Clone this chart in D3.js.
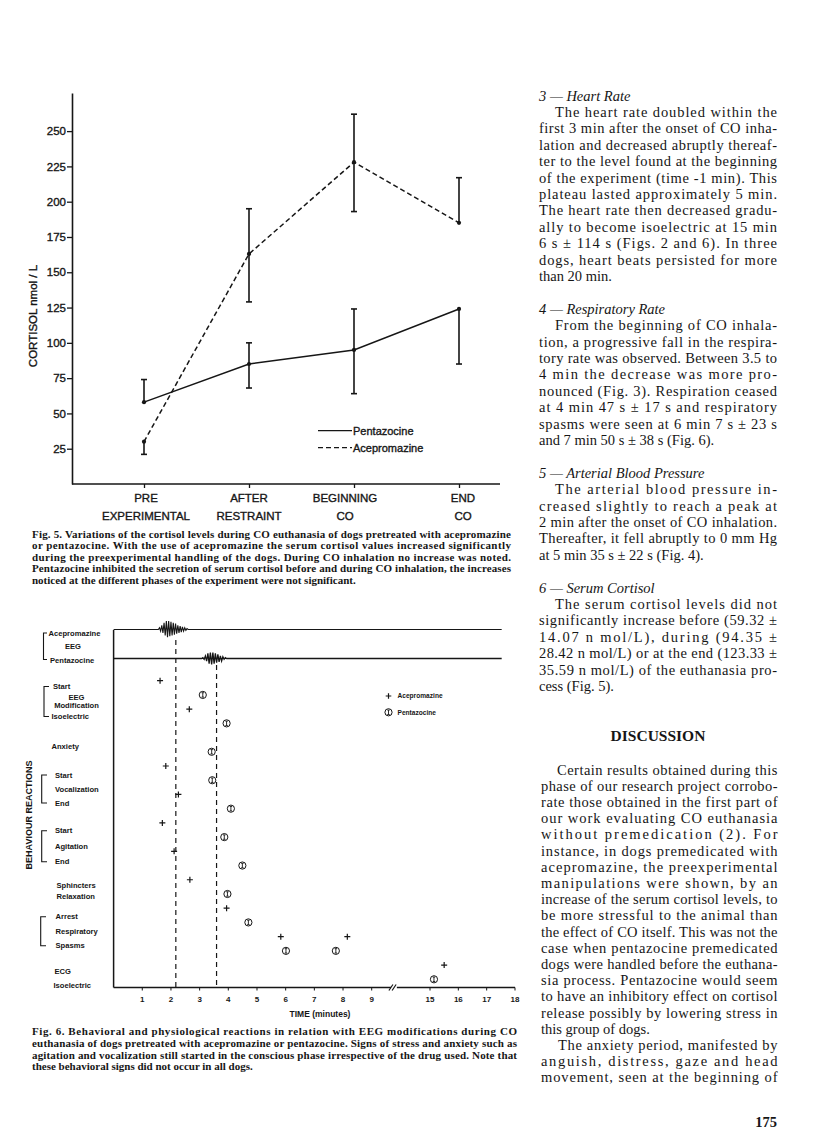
<!DOCTYPE html>
<html><head><meta charset="utf-8">
<script src="https://cdn.jsdelivr.net/npm/d3@7"></script>
<style>
html,body{margin:0;padding:0;background:#fff;}
svg{display:block;}
</style></head>
<body>
<svg id="page" width="816" height="1144"></svg>
<script>
// ===================== DATA =====================
// Fig. 5 — cortisol (nmol/L)
const phases = ["PRE|EXPERIMENTAL", "AFTER|RESTRAINT", "BEGINNING|CO", "END|CO"];
const cortisolTicks = [25, 50, 75, 100, 125, 150, 175, 200, 225, 250];
const pentazocineMean = [58, 85, 95, 124];
const pentazocineHigh = [74, 100, 124, 124];
const pentazocineLow  = [58, 68, 64, 85];
const acepromazineMean = [30, 163, 228, 185];
const acepromazineHigh = [30, 195, 262, 217];
const acepromazineLow  = [21, 129, 193, 185];
const seriesNames = ["Pentazocine", "Acepromazine"];

// Fig. 6 — time of reactions (minutes)
const reactions = ["EEG modification start", "EEG isoelectric", "Anxiety", "Vocalization start",
  "Vocalization end", "Agitation start", "Agitation end", "Sphincters relaxation",
  "Respiratory arrest", "Respiratory spasms", "ECG isoelectric"];
const drugs = ["Acepromazine", "Pentazocine"];
const acepromazineTimes = [[1.62], [2.64], [], [1.82], [2.26], [1.70], [2.11], [2.66], [3.94], [5.83, 8.15], [15.5]];
const pentazocineTimes  = [[3.11], [3.94], [3.42], [3.44], [4.09], [3.86], [4.49], [3.97], [4.70], [6.01, 7.75], [15.14]];
const eegSilenceTimes = [2.17, 3.59];          // dashed verticals (acepromazine, pentazocine)
const timeTicksLeft = [1, 2, 3, 4, 5, 6, 7, 8, 9];
const timeTicksRight = [15, 16, 17, 18];
// EEG traces: burst windows (min) and sampled amplitudes read from the tracings
const eegBurstWindow = [[1.56, 2.60], [3.07, 3.94]];
const eegBurstAce = [0, 2, -2, 5, -4, 8, -7, 10, -9, 10, -8, 9, -7, 8, -6, 7, -5, 5, -4, 4, -3, 3, -2, 2, -1, 1, 0];
const eegBurstPen = [0, 1, -1, 3, -3, 6, -6, 7, -7, 7, -6, 6, -5, 5, -4, 3, -3, 2, -1, 1, 0];
const eegTraceEnd = 17.53;

// ===================== DRAW =====================
const ink = "#161616";
const SANS = "'Liberation Sans', Arial, Helvetica, sans-serif";
const SERIF = "'Liberation Serif', 'Times New Roman', serif";
const svg = d3.select("#page");
svg.append("rect").attr("width", 816).attr("height", 1144).attr("fill", "#fff");
const thick = sel => sel.attr("stroke", ink).attr("stroke-width", 0.35).attr("paint-order", "stroke");

// ---------- Fig. 5 ----------
const f5 = svg.append("g");
const f5y = d3.scaleLinear().domain([0, 277]).range([484, 93]);
const f5x = d3.scalePoint().domain(phases).range([144, 459]);
const axX0 = 72;

f5.append("g").attr("transform", `translate(${axX0},0)`)
  .call(d3.axisLeft(f5y).tickValues(cortisolTicks).tickSize(5).tickSizeOuter(0).tickPadding(1))
  .attr("font-family", SANS).attr("font-size", 11.5)
  .call(g => g.select(".domain").attr("stroke", ink).attr("stroke-width", 1.6))
  .call(g => g.selectAll(".tick line").attr("stroke", ink).attr("stroke-width", 1.3))
  .call(g => g.selectAll(".tick text").attr("fill", ink).call(thick));

f5.append("g").attr("transform", `translate(0,${f5y(0)})`)
  .call(d3.axisBottom(f5x).tickSize(4).tickFormat(""))
  .call(g => g.select(".domain").remove())
  .call(g => g.selectAll(".tick line").attr("stroke", ink).attr("stroke-width", 1.3));
f5.append("line").attr("x1", axX0).attr("x2", 500).attr("y1", f5y(0)).attr("y2", f5y(0))
  .attr("stroke", ink).attr("stroke-width", 1.6);

const catLab = f5.append("g").attr("font-family", SANS).attr("font-size", 11.5).attr("fill", ink)
  .attr("text-anchor", "middle").call(thick);
const catNudge = [2, 0, -9, 4];   // typeset offsets of the two-line labels
phases.forEach((p, i) => {
  const [a, b] = p.split("|");
  catLab.append("text").attr("x", f5x(p) + catNudge[i]).attr("y", f5y(0) + 18).text(a);
  catLab.append("text").attr("x", f5x(p) + catNudge[i]).attr("y", f5y(0) + 36).text(b);
});

f5.append("text").attr("transform", `translate(37,${316}) rotate(-90)`)
  .attr("text-anchor", "middle").attr("font-family", SANS).attr("font-size", 11.5).attr("fill", ink)
  .call(thick).text("CORTISOL nmol / L");

const series5 = [
  {name: seriesNames[0], mean: pentazocineMean, hi: pentazocineHigh, lo: pentazocineLow, dash: null},
  {name: seriesNames[1], mean: acepromazineMean, hi: acepromazineHigh, lo: acepromazineLow, dash: "5,3"}
];
const line5 = d3.line().x((d, i) => f5x(phases[i])).y(d => f5y(d));
series5.forEach(s => {
  f5.append("path").attr("d", line5(s.mean)).attr("fill", "none").attr("stroke", ink)
    .attr("stroke-width", 1.5).attr("stroke-dasharray", s.dash);
  s.mean.forEach((m, i) => {
    const x = f5x(phases[i]);
    f5.append("line").attr("x1", x).attr("x2", x).attr("y1", f5y(s.lo[i])).attr("y2", f5y(s.hi[i]))
      .attr("stroke", ink).attr("stroke-width", 1.6);
    if (s.hi[i] > m) f5.append("line").attr("x1", x - 3).attr("x2", x + 3).attr("y1", f5y(s.hi[i])).attr("y2", f5y(s.hi[i])).attr("stroke", ink).attr("stroke-width", 1.6);
    if (s.lo[i] < m) f5.append("line").attr("x1", x - 3).attr("x2", x + 3).attr("y1", f5y(s.lo[i])).attr("y2", f5y(s.lo[i])).attr("stroke", ink).attr("stroke-width", 1.6);
    f5.append("circle").attr("cx", x).attr("cy", f5y(m)).attr("r", 2.1).attr("fill", ink);
  });
});
// legend
series5.forEach((s, i) => {
  const y = 430.7 + i * 17;
  f5.append("line").attr("x1", 318).attr("x2", 352).attr("y1", y).attr("y2", y)
    .attr("stroke", ink).attr("stroke-width", 1.3).attr("stroke-dasharray", s.dash);
  f5.append("text").attr("x", 353).attr("y", y + 4).attr("font-family", SANS).attr("font-size", 11)
    .attr("fill", ink).call(thick).text(s.name);
});

// ---------- justified text helper ----------
function para(g, lines, opts) {
  lines.forEach((ln, i) => {
    const t = g.append("text").attr("x", opts.x + (ln.indent || 0)).attr("y", opts.y0 + i * opts.lh)
      .attr("font-family", opts.font).attr("font-size", opts.size).attr("fill", ink)
      .attr("font-weight", ln.bold || opts.weight || "normal")
      .attr("font-style", ln.italic ? "italic" : "normal")
      .text(ln.t);
    if (ln.j) t.attr("textLength", opts.w - (ln.indent || 0)).attr("lengthAdjust", "spacing");
  });
}

// Fig. 5 caption
const cap5 = [
  {t: "Fig. 5.  Variations of the cortisol levels during CO euthanasia of dogs pretreated with acepromazine", j: 1},
  {t: "or pentazocine. With the use of acepromazine the serum cortisol values increased significantly", j: 1},
  {t: "during the preexperimental handling of the dogs. During CO inhalation no increase was noted.", j: 1},
  {t: "Pentazocine inhibited the secretion of serum cortisol before and during CO inhalation, the increases", j: 1},
  {t: "noticed at the different phases of the experiment were not significant.", j: 0}
];
para(svg.append("g"), cap5, {x: 32, w: 479, y0: 537.5, lh: 11.6, font: SERIF, size: 11, weight: "bold"});

// ---------- Fig. 6 ----------
const f6 = svg.append("g");
const tL = d3.scaleLinear().domain([0, 9]).range([113.6, 371.7]);
const tR = d3.scaleLinear().domain([15, 18]).range([430, 515]);
const tx = t => t <= 12 ? tL(t) : tR(t);
const breakL = 9.67, breakR = 13.83;
const axisY6 = 987.5, topY6 = 630;

const slotKeys = [];
reactions.forEach(r => drugs.forEach(d => slotKeys.push(r + "|" + d)));
const ySlot = d3.scalePoint().domain(slotKeys).range([680.7, 979.3]);

// axes
f6.append("line").attr("x1", tL(0)).attr("x2", tL(0)).attr("y1", topY6).attr("y2", axisY6)
  .attr("stroke", ink).attr("stroke-width", 1.5);
f6.append("line").attr("x1", tL(0)).attr("x2", tx(breakL)).attr("y1", axisY6).attr("y2", axisY6)
  .attr("stroke", ink).attr("stroke-width", 1.5);
f6.append("line").attr("x1", tx(breakR)).attr("x2", tR(18)).attr("y1", axisY6).attr("y2", axisY6)
  .attr("stroke", ink).attr("stroke-width", 1.5);
[0, 3.2].forEach(dx => f6.append("line").attr("x1", tx(breakL) - 2 + dx).attr("x2", tx(breakL) + 2 + dx)
  .attr("y1", axisY6 + 3).attr("y2", axisY6 - 3).attr("stroke", ink).attr("stroke-width", 1.2));
const ticksAll = timeTicksLeft.concat(timeTicksRight);
const tickG = f6.append("g").attr("font-family", SANS).attr("font-size", 8).attr("font-weight", "bold")
  .attr("fill", ink).attr("text-anchor", "middle");
ticksAll.forEach(t => {
  tickG.append("line").attr("x1", tx(t)).attr("x2", tx(t)).attr("y1", axisY6).attr("y2", axisY6 + 3)
    .attr("stroke", ink).attr("stroke-width", 1);
  tickG.append("text").attr("x", tx(t)).attr("y", axisY6 + 14).text(t);
});
f6.append("text").attr("x", 320).attr("y", 1017).attr("text-anchor", "middle").attr("font-family", SANS)
  .attr("font-size", 8.5).attr("font-weight", "bold").attr("fill", ink).text("TIME  (minutes)");

// EEG traces
const ampScale = d3.scaleLinear().domain([-10, 10]).range([8.5, -8.5]);
const traceBase = [629.5, 658.5];
[eegBurstAce, eegBurstPen].forEach((burst, k) => {
  const [b0, b1] = eegBurstWindow[k];
  const step = (b1 - b0) / (burst.length - 1);
  const pts = [[tL(0), traceBase[k]]];
  burst.forEach((a, i) => pts.push([tx(b0 + i * step), traceBase[k] + ampScale(a)]));
  pts.push([tx(eegTraceEnd), traceBase[k]]);
  f6.append("path").attr("d", d3.line()(pts)).attr("fill", "none").attr("stroke", ink)
    .attr("stroke-width", k === 0 ? 1.1 : 1.3);
});
// dashed verticals
eegSilenceTimes.forEach((t, k) => {
  f6.append("line").attr("x1", tx(t)).attr("x2", tx(t)).attr("y1", k === 0 ? 640 : 665).attr("y2", axisY6)
    .attr("stroke", ink).attr("stroke-width", 1.2).attr("stroke-dasharray", "5,4");
});

// markers
function plus(g, x, y, s) {
  g.append("path").attr("d", `M${x - s},${y}H${x + s}M${x},${y - s}V${y + s}`)
    .attr("stroke", ink).attr("stroke-width", 1.2).attr("fill", "none");
}
function circI(g, x, y) {
  g.append("circle").attr("cx", x).attr("cy", y).attr("r", 3.6).attr("fill", "#fff")
    .attr("stroke", ink).attr("stroke-width", 1);
  g.append("path").attr("d", `M${x - 1.2},${y - 2.2}H${x + 1.2}M${x},${y - 2.2}V${y + 2.2}M${x - 1.2},${y + 2.2}H${x + 1.2}`)
    .attr("stroke", ink).attr("stroke-width", 0.9).attr("fill", "none");
}
const mk = f6.append("g");
reactions.forEach((r, i) => {
  acepromazineTimes[i].forEach(t => plus(mk, tx(t), ySlot(r + "|" + drugs[0]), 3));
  pentazocineTimes[i].forEach(t => circI(mk, tx(t), ySlot(r + "|" + drugs[1])));
});
// legend
plus(mk, 388.5, 696, 2.8);
mk.append("text").attr("x", 397.5).attr("y", 698.3).attr("font-family", SANS).attr("font-size", 6.6)
  .attr("font-weight", "bold").attr("fill", ink).text(drugs[0]);
circI(mk, 388.5, 712.3);
mk.append("text").attr("x", 397.5).attr("y", 714.6).attr("font-family", SANS).attr("font-size", 6.6)
  .attr("font-weight", "bold").attr("fill", ink).text(drugs[1]);

// row labels
const lab = f6.append("g").attr("font-family", SANS).attr("font-size", 7.6).attr("font-weight", "bold").attr("fill", ink);
const rowLabels = [
  ["Acepromazine", 48.5, 633.3, "start"], ["EEG", 73, 646.7, "middle"], ["Pentazocine", 50, 660, "start"],
  ["Start", 53, 686.7, "start"], ["EEG", 76.5, 697.3, "middle"], ["Modification", 76.5, 705, "middle"], ["Isoelectric", 51.5, 716.7, "start"],
  ["Anxiety", 51.5, 746.7, "start"],
  ["Start", 55, 775, "start"], ["Vocalization", 55, 789, "start"], ["End", 55, 803.3, "start"],
  ["Start", 55, 830.7, "start"], ["Agitation", 55, 846.7, "start"], ["End", 55, 861.7, "start"],
  ["Sphincters", 56.5, 885, "start"], ["Relaxation", 56.5, 896.7, "start"],
  ["Arrest", 55.5, 916.7, "start"], ["Respiratory", 55.5, 931.7, "start"], ["Spasms", 55.5, 945.7, "start"],
  ["ECG", 54.5, 971, "start"], ["Isoelectric", 53.5, 985, "start"]
];
rowLabels.forEach(([t, x, y, a]) => lab.append("text").attr("x", x).attr("y", y + 2.7).attr("text-anchor", a).text(t));
const brackets = [[43.5, 633, 659.5, 47], [44, 686.5, 716.5, 49], [41.7, 775, 803, 47], [41.7, 830.7, 861.7, 47], [40.7, 916.7, 945.7, 46]];
brackets.forEach(([x, y1, y2, xe]) => f6.append("path")
  .attr("d", `M${xe},${y1}H${x}V${y2}H${xe}`).attr("fill", "none").attr("stroke", ink).attr("stroke-width", 1.1));
f6.append("text").attr("transform", "translate(32,815) rotate(-90)").attr("text-anchor", "middle")
  .attr("font-family", SANS).attr("font-size", 9).attr("font-weight", "bold").attr("fill", ink)
  .text("BEHAVIOUR REACTIONS");

// Fig. 6 caption
const cap6 = [
  {t: "Fig. 6.  Behavioral and physiological reactions in relation with EEG modifications during CO", j: 1},
  {t: "euthanasia of dogs pretreated with acepromazine or pentazocine. Signs of stress and anxiety such as", j: 1},
  {t: "agitation and vocalization still started in the conscious phase irrespective of the drug used. Note that", j: 1},
  {t: "these behavioral signs did not occur in all dogs.", j: 0}
];
para(svg.append("g"), cap6, {x: 32, w: 485, y0: 1035, lh: 11.8, font: SERIF, size: 11, weight: "bold"});

// ---------- right column text ----------
const col = svg.append("g");
const upper = [
  {t: "3 — Heart Rate", italic: 1},
  {t: "The heart rate doubled within the", j: 1, indent: 16},
  {t: "first 3 min after the onset of CO inha-", j: 1},
  {t: "lation and decreased abruptly thereaf-", j: 1},
  {t: "ter to the level found at the beginning", j: 1},
  {t: "of the experiment (time -1 min). This", j: 1},
  {t: "plateau lasted approximately 5 min.", j: 1},
  {t: "The heart rate then decreased gradu-", j: 1},
  {t: "ally to become isoelectric at 15 min", j: 1},
  {t: "6 s ± 114 s (Figs. 2 and 6). In three", j: 1},
  {t: "dogs, heart beats persisted for more", j: 1},
  {t: "than 20 min."},
  {t: ""},
  {t: "4 — Respiratory Rate", italic: 1},
  {t: "From the beginning of CO inhala-", j: 1, indent: 16},
  {t: "tion, a progressive fall in the respira-", j: 1},
  {t: "tory rate was observed. Between 3.5 to", j: 1},
  {t: "4 min the decrease was more pro-", j: 1},
  {t: "nounced (Fig. 3). Respiration ceased", j: 1},
  {t: "at 4 min 47 s ± 17 s and respiratory", j: 1},
  {t: "spasms were seen at 6 min 7 s ± 23 s", j: 1},
  {t: "and 7 min 50 s ± 38 s (Fig. 6)."},
  {t: ""},
  {t: "5 — Arterial Blood Pressure", italic: 1},
  {t: "The arterial blood pressure in-", j: 1, indent: 16},
  {t: "creased slightly to reach a peak at", j: 1},
  {t: "2 min after the onset of CO inhalation.", j: 1},
  {t: "Thereafter, it fell abruptly to 0 mm Hg", j: 1},
  {t: "at 5 min 35 s ± 22 s (Fig. 4)."},
  {t: ""},
  {t: "6 — Serum Cortisol", italic: 1},
  {t: "The serum cortisol levels did not", j: 1, indent: 16},
  {t: "significantly increase before (59.32 ±", j: 1},
  {t: "14.07 n mol/L), during (94.35 ±", j: 1},
  {t: "28.42 n mol/L) or at the end (123.33 ±", j: 1},
  {t: "35.59 n mol/L) of the euthanasia pro-", j: 1},
  {t: "cess (Fig. 5)."}
];
para(col, upper, {x: 539, w: 238, y0: 100.5, lh: 16.4, font: SERIF, size: 14.5});
col.append("text").attr("x", 658).attr("y", 740.5).attr("text-anchor", "middle").attr("font-family", SERIF)
  .attr("font-size", 15.5).attr("font-weight", "bold").attr("fill", ink).text("DISCUSSION");
const disc = [
  {t: "Certain results obtained during this", j: 1, indent: 16},
  {t: "phase of our research project corrobo-", j: 1},
  {t: "rate those obtained in the first part of", j: 1},
  {t: "our work evaluating CO euthanasia", j: 1},
  {t: "without premedication (2). For", j: 1},
  {t: "instance, in dogs premedicated with", j: 1},
  {t: "acepromazine, the preexperimental", j: 1},
  {t: "manipulations were shown, by an", j: 1},
  {t: "increase of the serum cortisol levels, to", j: 1},
  {t: "be more stressful to the animal than", j: 1},
  {t: "the effect of CO itself. This was not the", j: 1},
  {t: "case when pentazocine premedicated", j: 1},
  {t: "dogs were handled before the euthana-", j: 1},
  {t: "sia process. Pentazocine would seem", j: 1},
  {t: "to have an inhibitory effect on cortisol", j: 1},
  {t: "release possibly by lowering stress in", j: 1},
  {t: "this group of dogs."},
  {t: "The anxiety period, manifested by", j: 1, indent: 17},
  {t: "anguish, distress, gaze and head", j: 1},
  {t: "movement, seen at the beginning of", j: 1}
];
para(col, disc, {x: 541, w: 236.5, y0: 774.5, lh: 16.2, font: SERIF, size: 14.5});
col.append("text").attr("x", 777).attr("y", 1126.5).attr("text-anchor", "end").attr("font-family", SERIF)
  .attr("font-size", 14.5).attr("font-weight", "bold").attr("fill", ink).text("175");
</script>
</body></html>
